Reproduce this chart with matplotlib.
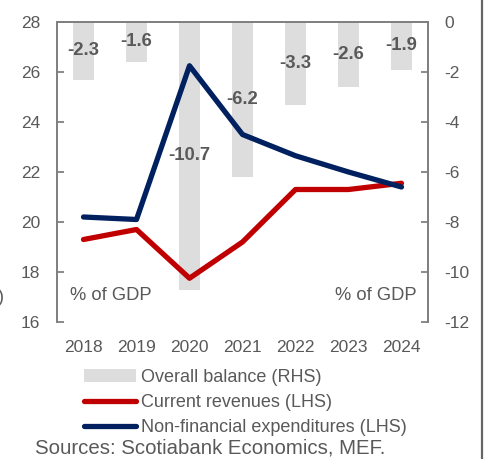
import matplotlib
matplotlib.use("Agg")
import matplotlib.pyplot as plt

plt.rcParams['font.family'] = ['Liberation Sans', 'DejaVu Sans']
plt.rcParams['axes.unicode_minus'] = False

years = ['2018', '2019', '2020', '2021', '2022', '2023', '2024']
balance = [-2.3, -1.6, -10.7, -6.2, -3.3, -2.6, -1.9]
revenues = [19.3, 19.7, 17.75, 19.2, 21.3, 21.3, 21.55]
expenditures = [20.2, 20.1, 26.25, 23.5, 22.65, 22.0, 21.4]

GRAY_TXT = '#595959'
SPINE = '#808080'

fig = plt.figure(figsize=(4.85, 4.59), dpi=100)
ax = fig.add_axes([57/485, 1 - 322/459, 371/485, 300/459])
ax2 = ax.twinx()

x = list(range(len(years)))

# bars on the right axis
bars = ax2.bar(x, balance, width=0.4, color='#DDDDDD', zorder=1)
ax2.bar_label(bars, labels=[f'{v:.1f}' for v in balance], label_type='center',
              fontsize=13.3, fontweight='bold', color=GRAY_TXT)
ax2.set_ylim(-12, 0)
ax2.set_yticks(range(-12, 1, 2))

# lines on the left axis, drawn above the bars
ax.set_zorder(ax2.get_zorder() + 1)
ax.patch.set_visible(False)
l1, = ax.plot(x, revenues, color='#C00000', lw=3.8, solid_capstyle='round')
l2, = ax.plot(x, expenditures, color='#002060', lw=3.8, solid_capstyle='round')
ax.set_ylim(16, 28)
ax.set_yticks(range(16, 29, 2))
ax.set_xlim(-0.5, len(years) - 0.5)
ax.set_xticks(x)
ax.set_xticklabels(years)

for a in (ax, ax2):
    for s in a.spines.values():
        s.set_color(SPINE)
        s.set_linewidth(1.3)
    a.spines['bottom'].set_visible(False)
ax.tick_params(axis='y', direction='in', length=5, width=1.3, color=SPINE,
               labelsize=12.5, labelcolor=GRAY_TXT, pad=12)
ax2.tick_params(axis='y', direction='in', length=5, width=1.3, color=SPINE,
                labelsize=12.5, labelcolor=GRAY_TXT, pad=12)
ax.tick_params(axis='x', length=0, labelsize=12.5, labelcolor=GRAY_TXT, pad=13)

ax.text(70/485, 1 - 296/459, '% of GDP', transform=fig.transFigure,
        fontsize=13.2, color=GRAY_TXT, ha='left', va='center')
ax.text(417/485, 1 - 296/459, '% of GDP', transform=fig.transFigure,
        fontsize=13.2, color=GRAY_TXT, ha='right', va='center')

fig.legend([bars, l1, l2],
           ['Overall balance (RHS)', 'Current revenues (LHS)',
            'Non-financial expenditures (LHS)'],
           loc='upper left', bbox_to_anchor=(84/485, 1 - 369/459),
           frameon=False, fontsize=13, labelcolor=GRAY_TXT,
           handlelength=2.9, handletextpad=0.25, labelspacing=0.45,
           borderpad=0, borderaxespad=0)

fig.text(35/485, 1 - 448/459, 'Sources: Scotiabank Economics, MEF.',
         fontsize=14.7, color=GRAY_TXT, ha='left', va='center')

# cut-off character at the left edge and frame line at the right edge
fig.text(4/485, 1 - 297/459, ')', fontsize=13, color=GRAY_TXT,
         ha='right', va='center')
fig.add_artist(plt.Line2D([482.5/485, 482.5/485], [0, 1], color='#666666',
                          lw=1.6, transform=fig.transFigure))

fig.savefig('out.png', dpi=100)
